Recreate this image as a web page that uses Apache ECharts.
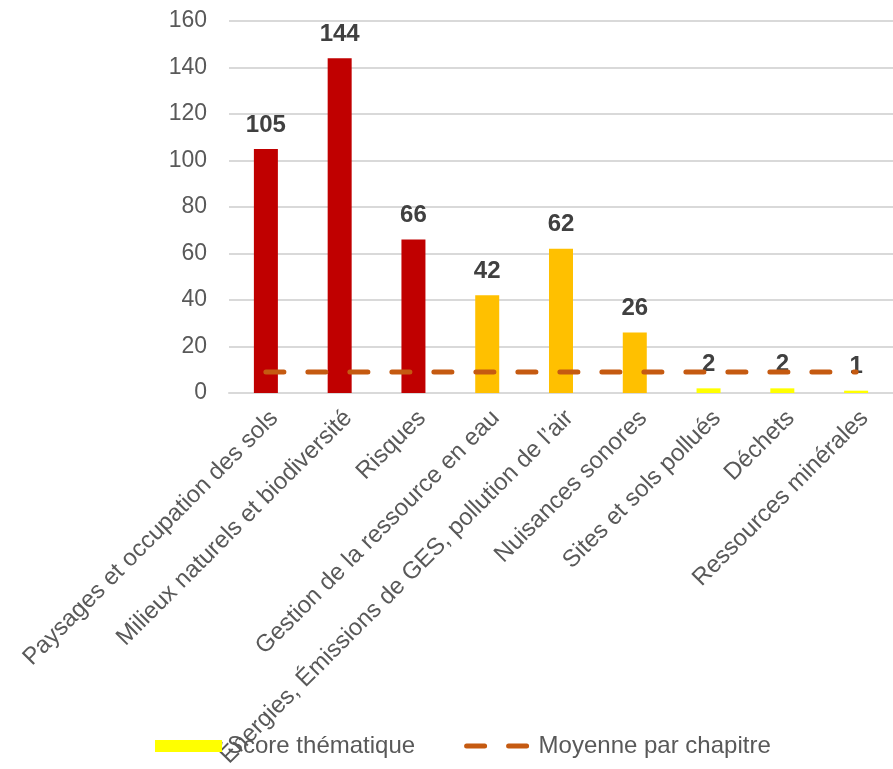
<!DOCTYPE html>
<html>
<head>
<meta charset="utf-8">
<script src="https://cdn.jsdelivr.net/npm/echarts@6/dist/echarts.min.js"></script>
<style>
  html, body { margin: 0; padding: 0; background: #fff; }
  #chart { width: 893px; height: 769px; }
</style>
</head>
<body>
<div id="chart"></div>
<script>
// catégories (axe X)
var categories = [
  'Paysages et occupation des sols',
  'Milieux naturels et biodiversité',
  'Risques',
  'Gestion de la ressource en eau',
  'Énergies, Émissions de GES, pollution de l\u2019air',
  'Nuisances sonores',
  'Sites et sols pollués',
  'Déchets',
  'Ressources minérales'
];
// score par thème
var scores = [105, 144, 66, 42, 62, 26, 2, 2, 1];
var barColors = ['#C00000', '#C00000', '#C00000', '#FFC000', '#FFC000', '#FFC000', '#FFFF00', '#FFFF00', '#FFFF00'];
// moyenne par chapitre
var moyenne = [9, 9, 9, 9, 9, 9, 9, 9, 9];

var font = 'Liberation Sans, Arial, sans-serif';
var dash = { color: '#C55A11', width: 5, type: [18, 24], cap: 'round' };

var chart = echarts.init(document.getElementById('chart'));

var barData = scores.map(function (v, i) {
  return { value: v, itemStyle: { color: barColors[i] } };
});

chart.setOption({
  animation: false,
  grid: { left: 229, right: 0, top: 21, bottom: 376, containLabel: false, outerBoundsMode: 'none' },
  legend: {
    left: 150,
    top: 729,
    itemWidth: 67,
    itemHeight: 12,
    itemGap: 49,
    textStyle: { fontFamily: font, fontSize: 24, color: '#595959' },
    data: [
      { name: 'Score thématique', icon: 'rect' },
      { name: 'Moyenne par chapitre', itemStyle: { opacity: 0 }, lineStyle: dash }
    ]
  },
  xAxis: {
    type: 'category',
    data: categories,
    axisLine: { lineStyle: { color: '#D9D9D9', width: 2 } },
    axisTick: { show: false },
    axisLabel: {
      interval: 0,
      rotate: 45,
      margin: 13,
      align: 'right',
      verticalAlign: 'top',
      fontFamily: font,
      fontSize: 24,
      color: '#595959'
    }
  },
  yAxis: {
    type: 'value',
    min: 0,
    max: 160,
    interval: 20,
    axisLine: { show: false },
    axisTick: { show: false },
    splitLine: { lineStyle: { color: '#D9D9D9', width: 2 } },
    axisLabel: { margin: 22, fontFamily: font, fontSize: 23, color: '#595959' }
  },
  series: [
    {
      name: 'Score thématique',
      type: 'bar',
      barWidth: 24,
      itemStyle: { color: '#FFFF00' },
      data: barData,
      label: {
        show: true,
        position: 'top',
        distance: 12,
        fontFamily: font,
        fontSize: 24,
        fontWeight: 'bold',
        color: '#404040'
      },
      z: 2
    },
    {
      name: 'Moyenne par chapitre',
      type: 'line',
      data: moyenne,
      symbol: 'none',
      lineStyle: dash,
      itemStyle: { color: '#C55A11' },
      z: 3
    }
  ]
});
</script>
</body>
</html>
